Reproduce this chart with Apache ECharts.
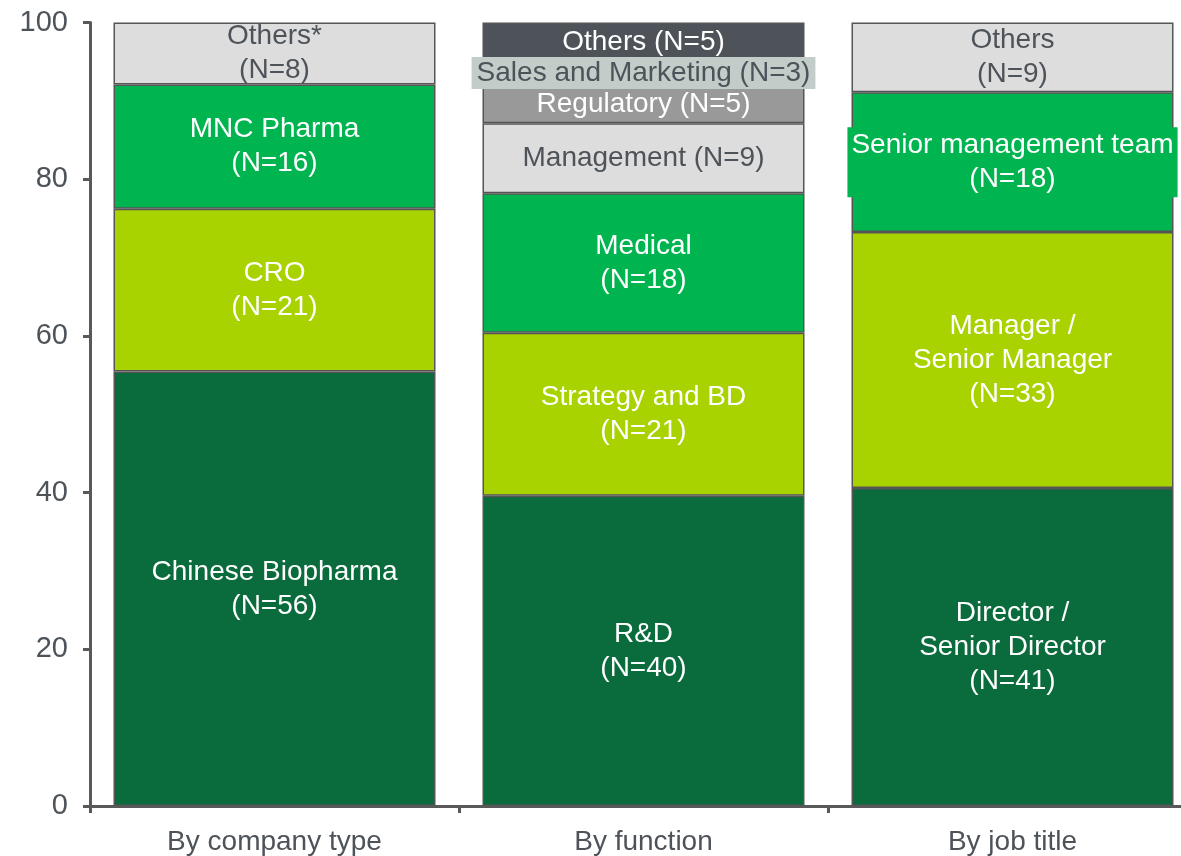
<!DOCTYPE html>
<html>
<head>
<meta charset="utf-8">
<script src="https://cdn.jsdelivr.net/npm/echarts@6/dist/echarts.min.js"></script>
<style>
  html, body { margin: 0; padding: 0; background: #ffffff; }
  #chart { width: 1181px; height: 856px; }
</style>
</head>
<body>
<div id="chart"></div>
<script>
// ---- Data ----
const categories = ['By company type', 'By function', 'By job title'];
const yTicks = [0, 20, 40, 60, 80, 100];

const companyLabels = ['Chinese Biopharma', 'CRO', 'MNC Pharma', 'Others*'];
const companyN = [56, 21, 16, 8];

const functionLabels = ['R&D', 'Strategy and BD', 'Medical', 'Management', 'Regulatory', 'Sales and Marketing', 'Others'];
const functionN = [40, 21, 18, 9, 5, 3, 5];

const jobLabels = ['Director /\nSenior Director', 'Manager /\nSenior Manager', 'Senior management team', 'Others'];
const jobN = [41, 33, 18, 9];

// ---- Styles ----
const DARK = '#0a6b3d', LIME = '#a8d300', GREEN = '#00b550', LGRAY = '#dddddd';
const MGRAY = '#999999', DGRAY = '#4d5359', SALES = '#c2ccc9';
const TXT = '#4d5359';
const companyColors = [DARK, LIME, GREEN, LGRAY];
const functionColors = [DARK, LIME, GREEN, LGRAY, MGRAY, SALES, DGRAY];
const jobColors = [DARK, LIME, GREEN, LGRAY];
const FONT = "'Liberation Sans', Arial, sans-serif";
const FS = 28;

const groups = [
  { labels: companyLabels, n: companyN, colors: companyColors, inlineFrom: 99 },
  { labels: functionLabels, n: functionN, colors: functionColors, inlineFrom: 3 },
  { labels: jobLabels, n: jobN, colors: jobColors, inlineFrom: 99 }
];

const series = [];
groups.forEach((g, gi) => {
  const total = g.n.reduce((a, b) => a + b, 0);
  g.n.forEach((v, j) => {
    const pct = v / total * 100;
    const color = g.colors[j];
    const light = (color === LGRAY || color === SALES);
    const labelText = j >= g.inlineFrom ? `${g.labels[j]} (N=${v})` : `${g.labels[j]}\n(N=${v})`;
    const label = {
      show: true,
      position: 'inside',
      formatter: labelText,
      color: light ? TXT : '#ffffff',
      fontFamily: FONT,
      fontSize: FS,
      lineHeight: 34,
      overflow: 'none'
    };
    if (color === SALES) {
      label.backgroundColor = SALES;
      label.padding = [0, 5];
      label.lineHeight = 32;
    }
    if (g.labels[j] === 'Senior management team') {
      label.backgroundColor = GREEN;
      label.padding = [1, 4];
    }
    series.push({
      type: 'bar',
      stack: 'total',
      barWidth: 322,
      data: categories.map((c, k) => (k === gi ? pct : '-')),
      itemStyle: { color: color, borderColor: '#555555', borderWidth: 1.5 },
      label: label,
      emphasis: { disabled: true },
      z: color === SALES ? 3 : 2
    });
  });
});

const chart = echarts.init(document.getElementById('chart'), null, { renderer: 'canvas' });
chart.setOption({
  animation: false,
  grid: { left: 90, top: 22.5, width: 1107, height: 783.5, containLabel: false, outerBoundsMode: 'none' },
  xAxis: {
    type: 'category',
    data: categories,
    axisLine: { lineStyle: { color: '#595959', width: 3 } },
    axisTick: { show: true, length: 7, lineStyle: { color: '#595959', width: 3 } },
    axisLabel: { color: TXT, fontFamily: FONT, fontSize: FS, margin: 22 }
  },
  yAxis: {
    type: 'value',
    min: yTicks[0],
    max: yTicks[yTicks.length - 1],
    interval: 20,
    splitLine: { show: false },
    axisLine: { show: true, lineStyle: { color: '#595959', width: 3 } },
    axisTick: { show: true, length: 7, lineStyle: { color: '#595959', width: 3 } },
    axisLabel: { color: TXT, fontFamily: FONT, fontSize: 29, margin: 22 }
  },
  series: series
});
</script>
</body>
</html>
